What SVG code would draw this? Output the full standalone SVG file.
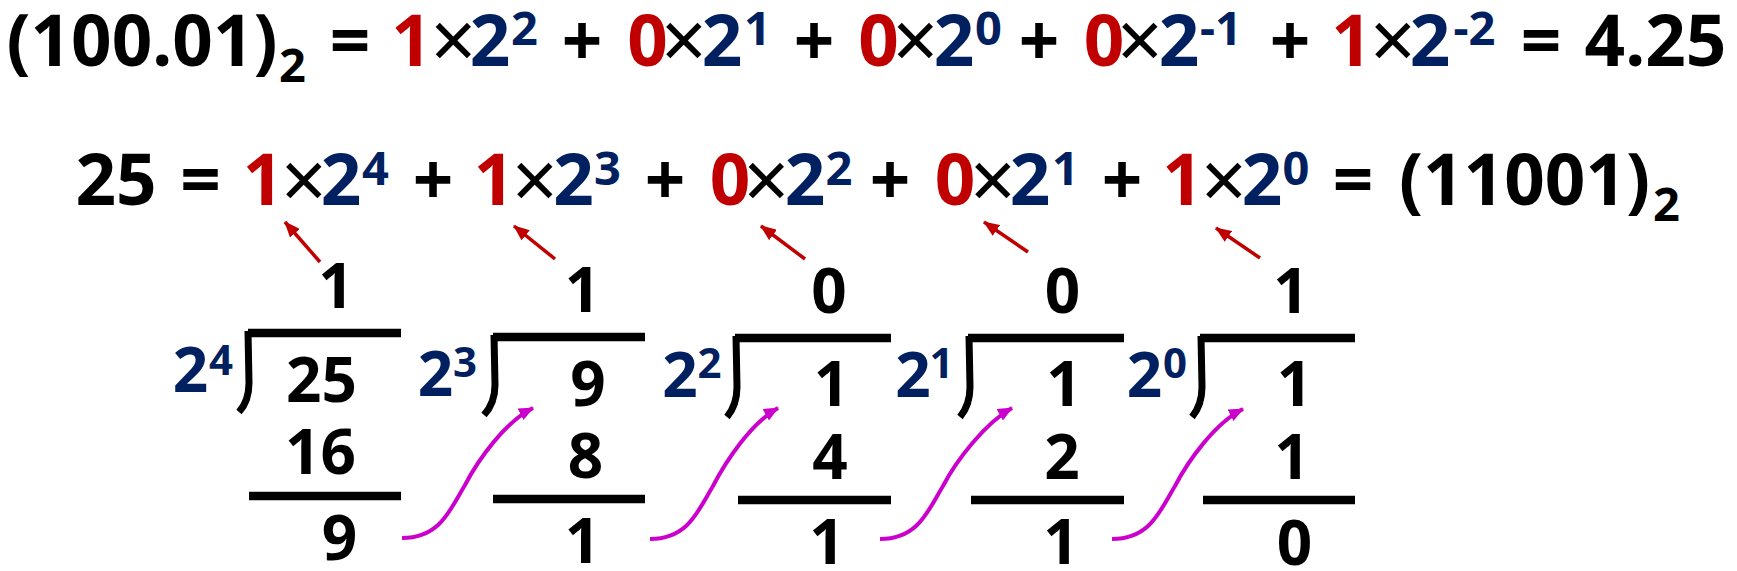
<svg xmlns="http://www.w3.org/2000/svg" width="1737" height="571" viewBox="0 0 1737 571">
<style>
.f{font-family:"Noto Sans","Open Sans","DejaVu Sans",sans-serif;font-weight:700;fill:#000}
.L{font-size:71px}
.M{font-size:62px}
.s{font-size:47px}
.ss{font-size:42px}
.r{fill:#C00000}
.u{fill:#002060}
.x{font-weight:400;font-size:80px}
.bar{stroke:#000;stroke-width:8.5;fill:none}
.hook{stroke:#000;stroke-width:7;fill:none}
.ra{stroke:#C00000;stroke-width:3.5;fill:none}
.ma{stroke:#CC00CC;stroke-width:4;fill:none}
</style>
<defs>
<marker id="hr" markerUnits="userSpaceOnUse" viewBox="0 0 16 13" refX="15" refY="6.5" markerWidth="16" markerHeight="13" orient="auto"><path d="M0,0L16,6.5L0,13z" fill="#C00000"/></marker>
<marker id="hm" markerUnits="userSpaceOnUse" viewBox="0 0 15 13" refX="14" refY="6.5" markerWidth="15" markerHeight="13" orient="auto"><path d="M0,0L15,6.5L0,13z" fill="#CC00CC"/></marker>
</defs>
<rect width="1737" height="571" fill="#fff"/>

<g id="line1">
<text class="f L" text-anchor="middle"><tspan x="142" y="66">(100.01)</tspan><tspan x="292.5" y="82" class="s">2</tspan><tspan x="350" y="66">=</tspan><tspan x="411.5" y="66" class="r">1</tspan><tspan x="453.5" y="69" class="x">×</tspan><tspan x="490" y="66" class="u">2</tspan><tspan x="524.5" y="45" class="s u">2</tspan><tspan x="582" y="66">+</tspan><tspan x="647.5" y="66" class="r">0</tspan><tspan x="684" y="69" class="x">×</tspan><tspan x="722" y="66" class="u">2</tspan><tspan x="757.5" y="45" class="s u">1</tspan><tspan x="814" y="66">+</tspan><tspan x="878.5" y="66" class="r">0</tspan><tspan x="915.5" y="69" class="x">×</tspan><tspan x="954" y="66" class="u">2</tspan><tspan x="988.5" y="45" class="s u">0</tspan><tspan x="1039" y="66">+</tspan><tspan x="1104" y="66" class="r">0</tspan><tspan x="1140" y="69" class="x">×</tspan><tspan x="1179" y="66" class="u">2</tspan><tspan x="1221" y="45" class="s u">-1</tspan><tspan x="1290" y="66">+</tspan><tspan x="1351.5" y="66" class="r">1</tspan><tspan x="1393" y="69" class="x">×</tspan><tspan x="1430" y="66" class="u">2</tspan><tspan x="1474.5" y="45" class="s u">-2</tspan><tspan x="1541" y="66">=</tspan><tspan x="1655.5" y="66">4.25</tspan></text>
</g>

<g id="line2">
<text class="f L" text-anchor="middle"><tspan x="116" y="205">25</tspan><tspan x="200.5" y="205">=</tspan><tspan x="263" y="205" class="r">1</tspan><tspan x="304" y="209" class="x">×</tspan><tspan x="341" y="205" class="u">2</tspan><tspan x="375.5" y="185" class="s u">4</tspan><tspan x="433" y="205">+</tspan><tspan x="494" y="205" class="r">1</tspan><tspan x="535" y="209" class="x">×</tspan><tspan x="573.5" y="205" class="u">2</tspan><tspan x="607.5" y="185" class="s u">3</tspan><tspan x="665" y="205">+</tspan><tspan x="730" y="205" class="r">0</tspan><tspan x="766.5" y="209" class="x">×</tspan><tspan x="805" y="205" class="u">2</tspan><tspan x="839" y="185" class="s u">2</tspan><tspan x="890" y="205">+</tspan><tspan x="955" y="205" class="r">0</tspan><tspan x="993" y="209" class="x">×</tspan><tspan x="1030" y="205" class="u">2</tspan><tspan x="1065.5" y="185" class="s u">1</tspan><tspan x="1122" y="205">+</tspan><tspan x="1182.5" y="205" class="r">1</tspan><tspan x="1224" y="209" class="x">×</tspan><tspan x="1262" y="205" class="u">2</tspan><tspan x="1296" y="185" class="s u">0</tspan><tspan x="1353" y="205">=</tspan><tspan x="1524.5" y="205">(11001)</tspan><tspan x="1666.5" y="221" class="s">2</tspan></text>
</g>

<g id="div1">
<text class="f M u" text-anchor="middle"><tspan x="190.5" y="392">2</tspan><tspan x="221" y="375" class="ss">4</tspan></text>
<path class="hook" d="M248,331 L249,383 Q249,401 239,412"/>
<line class="bar" x1="248" y1="333" x2="401" y2="333"/>
<text class="f M" x="336" y="308" text-anchor="middle">1</text>
<text class="f M" x="321.5" y="402" text-anchor="middle">25</text>
<text class="f M" x="320.5" y="474" text-anchor="middle">16</text>
<line class="bar" x1="249" y1="496" x2="401" y2="496"/>
<text class="f M" x="339.5" y="560" text-anchor="middle">9</text>
</g>

<g id="div2">
<text class="f M u" text-anchor="middle"><tspan x="435.5" y="396">2</tspan><tspan x="465" y="377" class="ss">3</tspan></text>
<path class="hook" d="M494,335 L495,385 Q495,403 484,415"/>
<line class="bar" x1="493" y1="337" x2="645" y2="337"/>
<text class="f M" x="582.5" y="312" text-anchor="middle">1</text>
<text class="f M" x="588" y="406" text-anchor="middle">9</text>
<text class="f M" x="585.5" y="478" text-anchor="middle">8</text>
<line class="bar" x1="493" y1="499" x2="645" y2="499"/>
<text class="f M" x="582.5" y="563" text-anchor="middle">1</text>
</g>

<g id="div3">
<text class="f M u" text-anchor="middle"><tspan x="680" y="397">2</tspan><tspan x="709.5" y="378" class="ss">2</tspan></text>
<path class="hook" d="M736,336 L737,387 Q737,405 727,417"/>
<line class="bar" x1="735" y1="338" x2="891" y2="338"/>
<text class="f M" x="829" y="313" text-anchor="middle">0</text>
<text class="f M" x="831.5" y="406" text-anchor="middle">1</text>
<text class="f M" x="830" y="479" text-anchor="middle">4</text>
<line class="bar" x1="738" y1="500" x2="891" y2="500"/>
<text class="f M" x="827" y="564" text-anchor="middle">1</text>
</g>

<g id="div4">
<text class="f M u" text-anchor="middle"><tspan x="913" y="397">2</tspan><tspan x="941.5" y="378" class="ss">1</tspan></text>
<path class="hook" d="M969,336 L970,387 Q970,405 960,417"/>
<line class="bar" x1="968" y1="338" x2="1124" y2="338"/>
<text class="f M" x="1062.5" y="313" text-anchor="middle">0</text>
<text class="f M" x="1064" y="406" text-anchor="middle">1</text>
<text class="f M" x="1062" y="479" text-anchor="middle">2</text>
<line class="bar" x1="971" y1="500" x2="1124" y2="500"/>
<text class="f M" x="1061" y="564" text-anchor="middle">1</text>
</g>

<g id="div5">
<text class="f M u" text-anchor="middle"><tspan x="1144.5" y="397">2</tspan><tspan x="1175" y="378" class="ss">0</tspan></text>
<path class="hook" d="M1201,336 L1202,387 Q1202,405 1192,417"/>
<line class="bar" x1="1200" y1="338" x2="1355" y2="338"/>
<text class="f M" x="1291" y="313" text-anchor="middle">1</text>
<text class="f M" x="1294.5" y="406" text-anchor="middle">1</text>
<text class="f M" x="1292" y="479" text-anchor="middle">1</text>
<line class="bar" x1="1203" y1="500" x2="1355" y2="500"/>
<text class="f M" x="1294.5" y="565" text-anchor="middle">0</text>
</g>

<g id="connectors">
<line class="ra" x1="320" y1="262" x2="285" y2="222" marker-end="url(#hr)"/>
<line class="ra" x1="555" y1="259" x2="514" y2="226" marker-end="url(#hr)"/>
<line class="ra" x1="805" y1="259" x2="761" y2="226" marker-end="url(#hr)"/>
<line class="ra" x1="1028" y1="252" x2="984" y2="222" marker-end="url(#hr)"/>
<line class="ra" x1="1260" y1="258" x2="1216" y2="228" marker-end="url(#hr)"/>
<path class="ma" d="M402,538 c38,0 48,-28 63,-53 c13,-25 40,-63 68,-77" marker-end="url(#hm)"/>
<path class="ma" d="M650,539 c38,0 48,-28 63,-53 c13,-25 38,-63 65,-78" marker-end="url(#hm)"/>
<path class="ma" d="M880,539 c38,0 48,-28 63,-53 c13,-25 42,-63 69,-78" marker-end="url(#hm)"/>
<path class="ma" d="M1112,539 c38,0 48,-28 63,-53 c13,-25 40,-63 68,-77" marker-end="url(#hm)"/>
</g>
</svg>
